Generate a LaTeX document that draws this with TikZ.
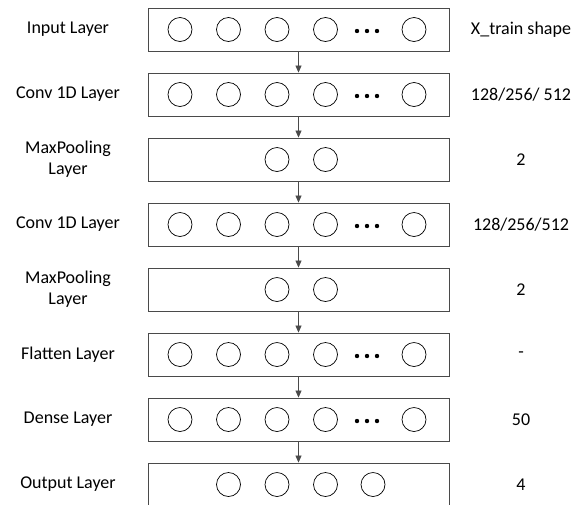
\documentclass[tikz,border=0pt]{standalone}
\usepackage{fontspec}
\setmainfont{Carlito}
\usetikzlibrary{arrows.meta}
\definecolor{boxgray}{HTML}{4A4A4A}

\tikzset{
  layerbox/.style={draw=boxgray,line width=0.9pt,minimum width=301pt,minimum height=43pt,inner sep=0pt},
  neuron/.style={draw,circle,line width=0.7pt,minimum size=24pt,inner sep=0pt},
  namelabel/.style={font=\fontsize{18}{21}\selectfont,align=center},
  sizelabel/.style={font=\fontsize{18}{21}\selectfont},
  flow/.style={-{Triangle[length=7pt,width=6pt]},line width=0.7pt,draw=boxgray}
}

\begin{document}
\begin{tikzpicture}[x=1pt,y=-1pt]
\useasboundingbox (0,0) rectangle (583,504);
% layer boxes
\foreach \i/\y in {1/29.5,2/94.5,3/159.5,4/224.5,5/289.5,6/354.5,7/419.5,8/484.5}
  \node[layerbox] (l\i) at (298.5,\y) {};
% full rows: four neurons, dots, last neuron
\foreach \i/\y in {1/29.5,2/94.5,4/224.5,6/354.5,7/419.5} {
  \foreach \x [count=\k] in {180,228.5,277,325.5,414}
    \node[neuron] (n\i\k) at (\x,\y) {};
  \foreach \x in {357,367,377}
    \fill (\x,\y+1.5) circle (2.2);
}
% pooling rows
\foreach \i/\y in {3/159.5,5/289.5} {
  \node[neuron] (n\i1) at (277,\y) {};
  \node[neuron] (n\i2) at (325.5,\y) {};
}
% output row
\foreach \x [count=\k] in {228.5,277,325.5,373}
  \node[neuron] (n8\k) at (\x,484.5) {};
% arrows between layers
\foreach \i [evaluate=\i as \j using int(\i+1)] in {1,...,7}
  \draw[flow] (l\i) -- (l\j);
% layer names
\node[namelabel] (a1) at (68,29.5) {Input Layer};
\node[namelabel] (a2) at (68,94.5) {Conv 1D Layer};
\node[namelabel] (a3) at (68,159.5) {MaxPooling\\Layer};
\node[namelabel] (a4) at (68,224.5) {Conv 1D Layer};
\node[namelabel] (a5) at (68,289.5) {MaxPooling\\Layer};
\node[namelabel] (a6) at (68,354.5) {Flatten Layer};
\node[namelabel] (a7) at (68,419.5) {Dense Layer};
\node[namelabel] (a8) at (68,484.5) {Output Layer};
% sizes
\node[sizelabel] (s1) at (521,29.5) {X\_train shape};
\node[sizelabel] (s2) at (521,94.5) {128/256/ 512};
\node[sizelabel] (s3) at (521,159.5) {2};
\node[sizelabel] (s4) at (521,224.5) {128/256/512};
\node[sizelabel] (s5) at (521,289.5) {2};
\node[sizelabel] (s6) at (521,354.5) {-};
\node[sizelabel] (s7) at (521,419.5) {50};
\node[sizelabel] (s8) at (521,484.5) {4};
\end{tikzpicture}
\end{document}
